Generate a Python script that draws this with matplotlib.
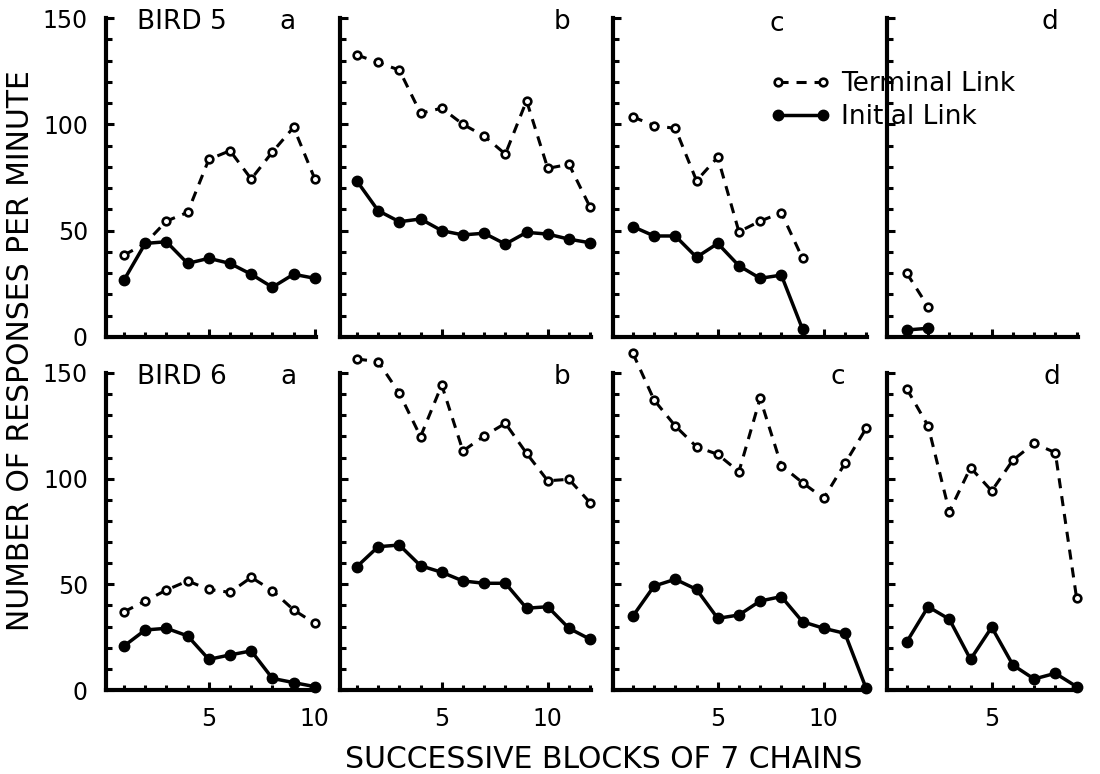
import numpy as np
import matplotlib
matplotlib.use("Agg")
import matplotlib.pyplot as plt
from matplotlib.ticker import MultipleLocator, FixedLocator, NullFormatter
from matplotlib.lines import Line2D

plt.rcParams['font.family'] = ['DejaVu Sans']

# BIRD 5 (top row), responses per minute per block
b5_term_a = [38.5, 44, 54.5, 58.6, 83.5, 87.6, 74.3, 87, 98.6, 74.3]
b5_init_a = [26.8, 44, 44.8, 34.6, 37, 34.6, 29.5, 23.4, 29.5, 27.6]
b5_term_b = [132.6, 129.1, 125.5, 105.2, 107.6, 100, 94.5, 86, 111.1, 79.3, 81.2, 61]
b5_init_b = [73.3, 59.4, 54.2, 55.5, 50, 48, 48.8, 43.7, 49.2, 48.4, 46, 44.3]
b5_term_c = [103.5, 99.4, 98.1, 73.5, 84.5, 49.5, 54.5, 58.4, 37]
b5_init_c = [51.9, 47.5, 47.5, 37.5, 44, 33.5, 27.6, 29.1, 3.7]
b5_term_d = [29.9, 14.2]
b5_init_d = [3.3, 4.1]

# BIRD 6 (bottom row)
b6_term_a = [37, 42.1, 47.3, 51.6, 47.6, 46.2, 53.3, 47, 37.9, 31.5]
b6_init_a = [20.8, 28.4, 29.2, 25.6, 14.5, 16.6, 18.5, 5.5, 3.5, 1.6]
b6_term_b = [156.6, 155.4, 140.4, 119.9, 144.3, 113.1, 120.2, 126.2, 112, 99, 99.7, 88.6]
b6_init_b = [58.4, 67.8, 68.6, 58.8, 55.7, 51.6, 50.5, 50.5, 38.7, 39.4, 29.2, 24]
b6_term_c = [159.3, 137.2, 124.9, 115.1, 111.5, 103.3, 138, 106.2, 98.1, 90.7, 107.2, 123.8]
b6_init_c = [35, 49.2, 52.4, 47.6, 33.9, 35.5, 42.1, 44.2, 32.3, 29.2, 26.8, 0.8]
b6_term_d = [142.4, 124.9, 84.4, 105.2, 94.2, 108.8, 116.7, 112.3, 43.7]
b6_init_d = [22.9, 39.4, 33.5, 14.5, 29.7, 11.8, 5.2, 7.9, 1.6]

panel_names = ['a', 'b', 'c', 'd']
n_blocks = [10, 12, 12, 9]
xlims = [(0.15, 10.15), (0.2, 12.1), (0.06, 12.05), (0.06, 9.8)]
left_px = [106, 340, 613, 887]
x_ticklabels = [[5, 10], [5, 10], [5, 10], [5]]

rows = [
    ("BIRD 5", [b5_term_a, b5_term_b, b5_term_c, b5_term_d],
     [b5_init_a, b5_init_b, b5_init_c, b5_init_d]),
    ("BIRD 6", [b6_term_a, b6_term_b, b6_term_c, b6_term_d],
     [b6_init_a, b6_init_b, b6_init_c, b6_init_d]),
]
# zero line pixel / height in pixels for each row
row_px = [(337, 319), (690, 317)]
# letter positions (x, y) in data coords
letter_pos = [[(8.7, 148), (10.67, 148), (7.8, 147), (7.75, 148)],
              [(8.74, 148), (10.67, 148), (10.67, 148), (7.84, 148)]]

W, H = 1100, 774
px_per_unit = 21.2

fig = plt.figure(figsize=(11, 7.74), dpi=100)

term_style = dict(color='black', lw=2.2, ls=(0, (3.3, 2.6)), marker='o', ms=5.5,
                  mfc='white', mec='black', mew=1.9)
init_style = dict(color='black', lw=2.5, ls='-', marker='o', ms=7.5,
                  mfc='black', mec='black')

for r, (bird, terms, inits) in enumerate(rows):
    y0, hpx = row_px[r]
    for i in range(4):
        x0, x1 = xlims[i]
        ax = fig.add_axes([left_px[i] / W, (H - y0) / H,
                           (x1 - x0) * px_per_unit / W, hpx / H])
        ax.plot(np.arange(1, len(terms[i]) + 1), terms[i], clip_on=False,
                zorder=3, **term_style)
        ax.plot(np.arange(1, len(inits[i]) + 1), inits[i], clip_on=False,
                zorder=4, **init_style)

        ax.set_xlim(x0, x1)
        ax.set_ylim(0, 150)
        for s in ['top', 'right']:
            ax.spines[s].set_visible(False)
        for s in ['left', 'bottom']:
            ax.spines[s].set_linewidth(3.0)
            ax.spines[s].set_capstyle('projecting')
        ax.spines['bottom'].set_bounds(x0, min(x1, n_blocks[i] + 0.05))

        ax.yaxis.set_major_locator(MultipleLocator(50))
        ax.yaxis.set_minor_locator(MultipleLocator(10))
        ax.xaxis.set_major_locator(FixedLocator(x_ticklabels[i]))
        ax.xaxis.set_minor_locator(FixedLocator(range(1, n_blocks[i] + 1)))
        ax.tick_params(which='both', direction='in', width=2.2, colors='black')
        ax.tick_params(axis='y', which='major', length=5.5, pad=13, labelsize=17)
        ax.tick_params(axis='y', which='minor', length=4)
        ax.tick_params(axis='x', which='major', length=6, pad=12, labelsize=17)
        ax.tick_params(axis='x', which='minor', length=3.5)
        if i > 0:
            ax.yaxis.set_major_formatter(NullFormatter())
        if r == 0:
            ax.xaxis.set_major_formatter(NullFormatter())

        lx, ly = letter_pos[r][i]
        ax.text(lx, ly, panel_names[i], fontsize=19, ha='center', va='center')
        if i == 0:
            ax.text(1.62, ly, bird, fontsize=19, ha='left', va='center')

handles = [Line2D([], [], **term_style), Line2D([], [], **init_style)]
fig.legend(handles, ['Terminal Link', 'Initial Link'], numpoints=2,
           frameon=False, fontsize=19, handlelength=2.3,
           handletextpad=0.4, labelspacing=0.28, borderpad=0,
           borderaxespad=0, loc='upper left',
           bbox_to_anchor=(770 / W, 1 - 71 / H))

fig.text(21 / W, 1 - 351 / H, 'NUMBER OF RESPONSES PER MINUTE', rotation=90,
         ha='center', va='center', fontsize=21.5)
fig.text(604 / W, 1 - 760 / H, 'SUCCESSIVE BLOCKS OF 7 CHAINS',
         ha='center', va='center', fontsize=21.5)

fig.savefig('out.png', dpi=100)
